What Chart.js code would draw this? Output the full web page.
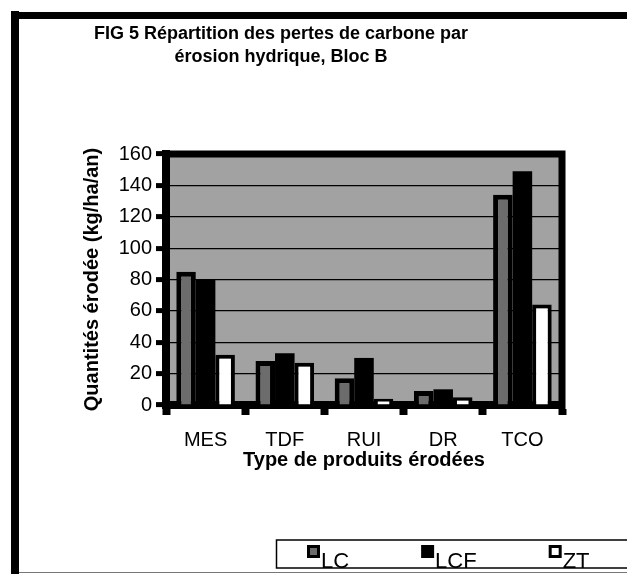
<!DOCTYPE html>
<html><head><meta charset="utf-8">
<script src="https://cdn.jsdelivr.net/npm/chart.js@4"></script>
<style>
html,body{margin:0;padding:0;background:#fff;}
#wrap{position:relative;width:627px;height:574px;overflow:hidden;}
canvas{position:absolute;left:0;top:0;}
.fl{position:absolute;left:11px;top:11px;width:8px;height:563px;background:#000;}
.ft{position:absolute;left:11px;top:12px;width:616px;height:7px;background:#000;}
.fb{position:absolute;left:19px;top:572px;width:608px;height:1px;background:#777;}
</style></head>
<body>
<div id="wrap">
<canvas id="c" width="627" height="574"></canvas>
<div class="fl"></div><div class="ft"></div><div class="fb"></div>
</div>
<script>
const titleLines = ['FIG 5 Répartition des pertes de carbone par', 'érosion hydrique, Bloc B'];
const categories = ['MES', 'TDF', 'RUI', 'DR', 'TCO'];
const seriesNames = ['LC', 'LCF', 'ZT'];
const valuesLC = [85, 28, 17, 9, 134];
const valuesLCF = [80, 33, 30, 10, 149];
const valuesZT = [32, 27, 4, 5, 64];
const yMin = 0, yMax = 160, yStep = 20;
const yTitle = 'Quantités érodée (kg/ha/an)';
const xTitle = 'Type de produits érodées';

const FONT = 'Liberation Sans, Arial, sans-serif';

const plotFrame = {
  id: 'plotFrame',
  beforeDraw(chart) {
    const {ctx, chartArea: a} = chart;
    ctx.save();
    ctx.fillStyle = '#a2a2a2';
    ctx.fillRect(a.left, a.top, a.right - a.left, a.bottom - a.top);
    ctx.restore();
  },
  afterDatasetsDraw(chart) {
    const {ctx, chartArea: a} = chart;
    ctx.save();
    ctx.strokeStyle = '#000';
    ctx.lineWidth = 7;
    ctx.beginPath();
    ctx.moveTo(a.left - 4, a.top);
    ctx.lineTo(a.right, a.top);
    ctx.lineTo(a.right, a.bottom + 4);
    ctx.stroke();
    ctx.restore();
  }
};

const boxLegend = {
  id: 'boxLegend',
  afterDraw(chart) {
    const ctx = chart.ctx;
    ctx.save();
    ctx.strokeStyle = '#000';
    ctx.lineWidth = 1.5;
    ctx.strokeRect(276.5, 540, 360, 28);
    ctx.font = '22px ' + FONT;
    ctx.textBaseline = 'alphabetic';
    let x = 307;
    chart.data.datasets.forEach(ds => {
      const bw = ds.borderWidth || 0;
      ctx.fillStyle = '#000';
      ctx.fillRect(x, 545, 13, 13);
      ctx.fillStyle = ds.backgroundColor;
      if (bw > 0) ctx.fillRect(x + 3, 548, 7, 7);
      ctx.fillStyle = '#000';
      ctx.fillText(ds.label, x + 14, 568);
      x += 14 + ctx.measureText(ds.label).width + 72;
    });
    ctx.restore();
  }
};

new Chart(document.getElementById('c'), {
  type: 'bar',
  data: {
    labels: categories,
    datasets: [
      {label: seriesNames[0], data: valuesLC, backgroundColor: '#6c6c6c', borderColor: '#000', borderWidth: 5},
      {label: seriesNames[1], data: valuesLCF, backgroundColor: '#000', borderColor: '#000', borderWidth: 0},
      {label: seriesNames[2], data: valuesZT, backgroundColor: '#fff', borderColor: '#000', borderWidth: 4}
    ]
  },
  options: {
    responsive: false,
    animation: false,
    devicePixelRatio: 1,
    layout: {padding: {left: 0, right: 65, top: 0, bottom: 98}},
    datasets: {bar: {categoryPercentage: 0.74, barPercentage: 1.0}},
    plugins: {
      legend: {display: false},
      tooltip: {enabled: false},
      title: {
        display: true,
        text: titleLines,
        color: '#000',
        font: {family: FONT, size: 18, weight: 'bold', lineHeight: 1.25},
        padding: {top: 23, bottom: 86}
      }
    },
    scales: {
      x: {
        offset: true,
        grid: {display: true, drawOnChartArea: false, drawTicks: true, tickLength: 10, tickWidth: 8, tickColor: '#000', offset: true},
        border: {display: true, width: 8, color: '#000'},
        ticks: {color: '#000', font: {family: FONT, size: 20}, padding: 13, maxRotation: 0, autoSkip: false},
        title: {display: true, text: xTitle, color: '#000', font: {family: FONT, size: 20, weight: 'bold'}, padding: {top: 0, bottom: 4}},
        afterFit(s) { s.height = 71; }
      },
      y: {
        min: yMin, max: yMax,
        grid: {color: '#000', lineWidth: 1.2, tickLength: 10, tickWidth: 5, tickColor: '#000'},
        border: {display: true, width: 8, color: '#000'},
        ticks: {stepSize: yStep, color: '#000', font: {family: FONT, size: 20}, padding: 4},
        title: {display: true, text: yTitle, color: '#000', font: {family: FONT, size: 20, weight: 'bold'}, padding: {top: 80, bottom: 0}},
        afterFit(s) { s.width = 166; }
      }
    }
  },
  plugins: [plotFrame, boxLegend]
});
</script>
</body></html>
